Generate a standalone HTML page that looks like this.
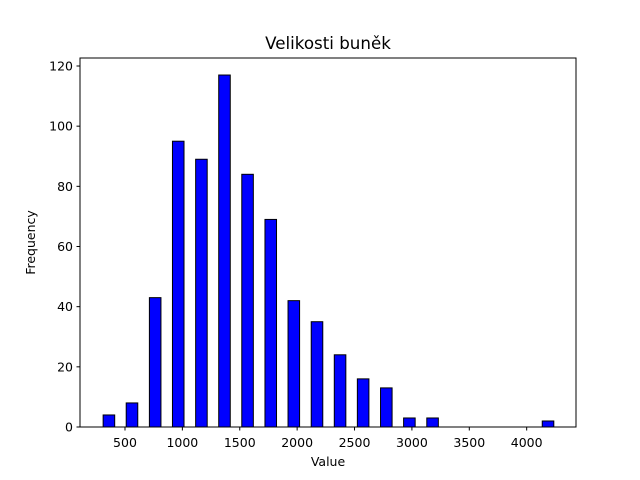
<!DOCTYPE html>
<html><head><meta charset="utf-8"><style>
body{margin:0;background:#fff;}
svg{display:block;font-family:"DejaVu Sans","Liberation Sans",sans-serif;}
</style></head><body>
<svg id="chart" width="640" height="480" viewBox="0 0 640 480">
<rect width="640" height="480" fill="#fff"/>
<text x="328" y="49" font-size="16.7" text-anchor="middle">Velikosti buněk</text>
<g id="bars"></g>
<g id="xticks"></g>
<g id="yticks"></g>
<rect x="80" y="58" width="496" height="369" fill="none" stroke="#000" stroke-width="1"/>
<text x="328" y="466" font-size="12.5" text-anchor="middle">Value</text>
<text transform="translate(35,242.5) rotate(-90)" font-size="12.5" text-anchor="middle">Frequency</text>
</svg>
<script>
const binCenters=[360,561,763,964,1166,1367,1568,1770,1971,2173,2374,2575,2777,2978,3180,3381,3582,3784,3985,4186];
const counts=[4,8,43,95,89,117,84,69,42,35,24,16,13,3,3,0,0,0,0,2];
const binWidth=201.4;
const xTicks=[500,1000,1500,2000,2500,3000,3500,4000];
const yTicks=[0,20,40,60,80,100,120];
const NS="http://www.w3.org/2000/svg";
function xs(v){return 67.6+v*0.11477;}
function ys(v){return 427-v*(361/120);}
const bars=document.getElementById('bars');
binCenters.forEach((c,i)=>{
  const r=document.createElementNS(NS,'rect');
  const w=binWidth*0.5*0.11477;
  r.setAttribute('x',xs(c)-w/2);
  r.setAttribute('y',ys(counts[i]));
  r.setAttribute('width',w);
  r.setAttribute('height',ys(0)-ys(counts[i]));
  r.setAttribute('fill','#0000ff');
  r.setAttribute('stroke',counts[i]===0?'#bbb':'#000');
  r.setAttribute('stroke-width','1');
  
  
  bars.appendChild(r);
});
const xg=document.getElementById('xticks');
xTicks.forEach(t=>{
  const l=document.createElementNS(NS,'line');
  l.setAttribute('x1',xs(t));l.setAttribute('x2',xs(t));
  l.setAttribute('y1',427);l.setAttribute('y2',430.5);
  l.setAttribute('stroke','#000');
  
  
  xg.appendChild(l);
  const tx=document.createElementNS(NS,'text');
  tx.setAttribute('x',xs(t));tx.setAttribute('y',447);
  tx.setAttribute('font-size','12.5');tx.setAttribute('text-anchor','middle');
  tx.textContent=t;
  
  
  xg.appendChild(tx);
});
const yg=document.getElementById('yticks');
yTicks.forEach(t=>{
  const l=document.createElementNS(NS,'line');
  l.setAttribute('x1',76.5);l.setAttribute('x2',80);
  l.setAttribute('y1',ys(t));l.setAttribute('y2',ys(t));
  l.setAttribute('stroke','#000');
  
  
  yg.appendChild(l);
  const tx=document.createElementNS(NS,'text');
  tx.setAttribute('x',73);tx.setAttribute('y',ys(t)+4.5);
  tx.setAttribute('font-size','12.5');tx.setAttribute('text-anchor','end');
  tx.textContent=t;
  
  
  yg.appendChild(tx);
});
</script>
</body></html>
